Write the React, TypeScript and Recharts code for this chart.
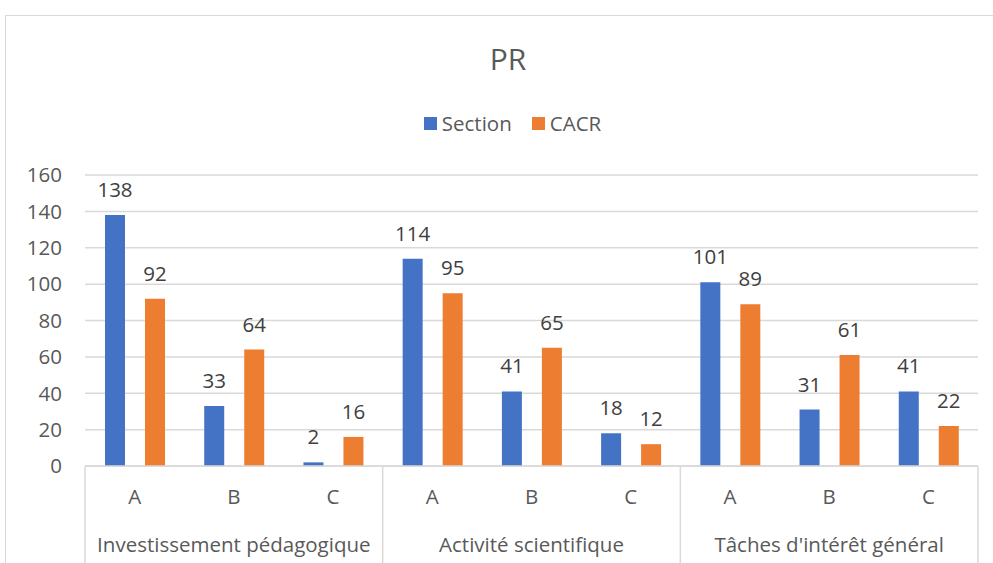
import React from 'react'
import { BarChart, Bar, XAxis, YAxis, CartesianGrid, LabelList } from 'recharts'

// categories: sub label + group
const subLabels = ['A', 'B', 'C', 'A', 'B', 'C', 'A', 'B', 'C']
const groups = ['Investissement pédagogique', 'Activité scientifique', "Tâches d'intérêt général"]
const sectionValues = [138, 33, 2, 114, 41, 18, 101, 31, 41]
const cacrValues = [92, 64, 16, 95, 65, 12, 89, 61, 22]
const yTicks = [0, 20, 40, 60, 80, 100, 120, 140, 160]

const data = subLabels.map((s, i) => ({
  key: `${i}`,
  sub: s,
  group: groups[Math.floor(i / 3)],
  Section: sectionValues[i],
  CACR: cacrValues[i],
}))

const W = 993
const H = 563
const PLOT_LEFT = 85
const PLOT_RIGHT = 978
const PLOT_BOTTOM = 466
const BAND = (PLOT_RIGHT - PLOT_LEFT) / subLabels.length

const FONT = '"Open Sans", sans-serif'
const GRAY = '#595959'
const AXIS = '#d9d9d9'
const FS = 20.5

const CatTick = (props: any) => {
  const { x, index } = props
  const item = data[index]
  return (
    <g>
      <text x={x} y={504} textAnchor="middle" fill={GRAY} fontSize={FS} fontFamily={FONT}>
        {item.sub}
      </text>
      {index % 3 === 1 && (
        <text x={x} y={552} textAnchor="middle" fill={GRAY} fontSize={FS} fontFamily={FONT}>
          {item.group}
        </text>
      )}
      {index % 3 === 0 && (
        <line x1={x - BAND / 2} x2={x - BAND / 2} y1={PLOT_BOTTOM} y2={H} stroke={AXIS} strokeWidth={1.5} />
      )}
      {index === subLabels.length - 1 && (
        <line x1={x + BAND / 2} x2={x + BAND / 2} y1={PLOT_BOTTOM} y2={H} stroke={AXIS} strokeWidth={1.5} />
      )}
    </g>
  )
}

export default function App() {
  return (
    <div style={{ position: 'absolute', left: 0, top: 0, width: W, height: H, overflow: 'hidden', background: '#fff' }}>
      <div
        style={{
          position: 'absolute',
          left: 5,
          top: 15,
          width: W + 20,
          height: H + 20,
          border: '1px solid #d9d9d9',
        }}
      />
      <div
        style={{
          position: 'absolute',
          top: 38,
          left: 0,
          width: 1016,
          textAlign: 'center',
          fontFamily: FONT,
          fontSize: 30,
          color: GRAY,
        }}
      >
        PR
      </div>
      <div
        style={{
          position: 'absolute',
          top: 109,
          left: 0,
          width: 1025,
          display: 'flex',
          justifyContent: 'center',
          fontFamily: FONT,
          fontSize: FS,
          color: GRAY,
          alignItems: 'center',
        }}
      >
        <span style={{ width: 13, height: 13, background: '#4472C4', marginRight: 5 }} />
        <span style={{ marginRight: 20 }}>Section</span>
        <span style={{ width: 13, height: 13, background: '#ED7D31', marginRight: 5 }} />
        <span>CACR</span>
      </div>
      <div style={{ position: 'absolute', left: 0, top: 0 }}>
        <BarChart
          width={W}
          height={H}
          data={data}
          margin={{ top: 175, right: W - PLOT_RIGHT, bottom: 0, left: 25 }}
          barSize={20}
          barGap={20}
        >
          <CartesianGrid vertical={false} stroke={AXIS} strokeWidth={1.5} />
          <XAxis
            dataKey="key"
            axisLine={{ stroke: AXIS, strokeWidth: 1.5 }}
            tickLine={false}
            tick={<CatTick />}
            interval={0}
            height={H - PLOT_BOTTOM}
          />
          <YAxis
            width={60}
            domain={[0, 160]}
            ticks={yTicks}
            interval={0}
            axisLine={false}
            tickLine={false}
            tickMargin={17}
            tick={{ fill: GRAY, fontSize: FS, fontFamily: FONT }}
          />
          <Bar dataKey="Section" fill="#4472C4" isAnimationActive={false}>
            <LabelList dataKey="Section" position="top" offset={18} fill="#404040" fontSize={FS} fontFamily={FONT} />
          </Bar>
          <Bar dataKey="CACR" fill="#ED7D31" isAnimationActive={false}>
            <LabelList dataKey="CACR" position="top" offset={18} fill="#404040" fontSize={FS} fontFamily={FONT} />
          </Bar>
        </BarChart>
      </div>
    </div>
  )
}
